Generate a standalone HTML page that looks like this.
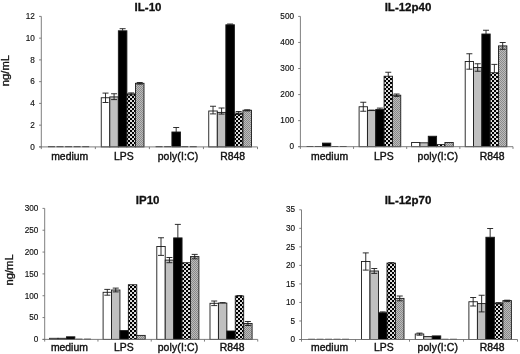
<!DOCTYPE html>
<html lang="en">
<head>
<meta charset="utf-8">
<title>Cytokine production</title>
<style>
html,body{margin:0;padding:0;background:#fff;}
body{width:520px;height:354px;overflow:hidden;}
svg{display:block;filter:blur(0.35px);}
text{font-family:"Liberation Sans",Arial,Helvetica,sans-serif;fill:#111;stroke:#111;stroke-width:0.3px;}
.tk{font-size:8.2px;stroke-width:0.15px;}
.ct{font-size:10.4px;stroke-width:0.4px;}
.tt{font-size:11.5px;font-weight:bold;}
.yl{font-size:10.2px;}
</style>
</head>
<body>
<svg width="520" height="354" viewBox="0 0 520 354">
<defs>
<pattern id="chk" width="4" height="4" patternUnits="userSpaceOnUse"><rect width="4" height="4" fill="#000"/><rect x="0.1" y="2.1" width="1.85" height="1.85" fill="#fff"/><rect x="2.1" y="0.1" width="1.85" height="1.85" fill="#fff"/></pattern>
<pattern id="dot" width="2" height="2" patternUnits="userSpaceOnUse"><rect width="2" height="2" fill="#bcbcbc"/><rect x="0" y="0" width="1" height="1" fill="#8a8a8a"/><rect x="1" y="1" width="1" height="1" fill="#8a8a8a"/></pattern>
</defs>
<rect width="520" height="354" fill="#fff"/>
<g>
<path d="M48 146.7H54.95" fill="none" stroke="#1a1a1a" stroke-width="1"/>
<path d="M56.55 146.7H63.5" fill="none" stroke="#1a1a1a" stroke-width="1"/>
<path d="M65.1 146.7H72.05" fill="none" stroke="#1a1a1a" stroke-width="1"/>
<path d="M73.65 146.7H80.6" fill="none" stroke="#1a1a1a" stroke-width="1"/>
<path d="M82.2 146.7H89.15" fill="none" stroke="#1a1a1a" stroke-width="1"/>
<rect x="101.25" y="97.75" width="8.55" height="49.15" fill="#ffffff" stroke="#1a1a1a" stroke-width="0.9"/>
<path d="M105.53 93.1V102.5M102.53 93.1H108.53M102.53 102.5H108.53" fill="none" stroke="#1a1a1a" stroke-width="0.9"/>
<rect x="109.8" y="96.9" width="8.55" height="50" fill="#c0c0c0" stroke="#1a1a1a" stroke-width="0.9"/>
<path d="M114.08 93.75V99.6M111.08 93.75H117.08M111.08 99.6H117.08" fill="none" stroke="#1a1a1a" stroke-width="0.9"/>
<rect x="118.35" y="30.8" width="8.55" height="116.1" fill="#000000" stroke="#1a1a1a" stroke-width="0.9"/>
<path d="M122.62 28.7V30.8M119.62 28.7H125.62" fill="none" stroke="#1a1a1a" stroke-width="0.9"/>
<rect x="126.9" y="93.9" width="8.55" height="53" fill="url(#chk)" stroke="#1a1a1a" stroke-width="0.9"/>
<path d="M131.18 92.9V94.9M128.18 92.9H134.18M128.18 94.9H134.18" fill="none" stroke="#1a1a1a" stroke-width="0.9"/>
<rect x="135.45" y="83.3" width="8.55" height="63.6" fill="url(#dot)" stroke="#1a1a1a" stroke-width="0.9"/>
<path d="M139.72 82.5V84.1M136.72 82.5H142.72M136.72 84.1H142.72" fill="none" stroke="#1a1a1a" stroke-width="0.9"/>
<path d="M155.6 146.7H162.55" fill="none" stroke="#1a1a1a" stroke-width="1"/>
<path d="M164.15 146.7H171.1" fill="none" stroke="#1a1a1a" stroke-width="1"/>
<rect x="171.9" y="132" width="8.55" height="14.9" fill="#000000" stroke="#1a1a1a" stroke-width="0.9"/>
<path d="M176.18 127.5V132M173.18 127.5H179.18" fill="none" stroke="#1a1a1a" stroke-width="0.9"/>
<path d="M181.25 146.7H188.2" fill="none" stroke="#1a1a1a" stroke-width="1"/>
<path d="M189.8 146.7H196.75" fill="none" stroke="#1a1a1a" stroke-width="1"/>
<rect x="208.75" y="111" width="8.55" height="35.9" fill="#ffffff" stroke="#1a1a1a" stroke-width="0.9"/>
<path d="M213.03 106.25V113.9M210.03 106.25H216.03M210.03 113.9H216.03" fill="none" stroke="#1a1a1a" stroke-width="0.9"/>
<rect x="217.3" y="112.4" width="8.55" height="34.5" fill="#c0c0c0" stroke="#1a1a1a" stroke-width="0.9"/>
<path d="M221.58 108V114.1M218.58 108H224.58M218.58 114.1H224.58" fill="none" stroke="#1a1a1a" stroke-width="0.9"/>
<rect x="225.85" y="24.8" width="8.55" height="122.1" fill="#000000" stroke="#1a1a1a" stroke-width="0.9"/>
<path d="M230.12 24V24.8M227.12 24H233.12" fill="none" stroke="#1a1a1a" stroke-width="0.9"/>
<rect x="234.4" y="113.1" width="8.55" height="33.8" fill="url(#chk)" stroke="#1a1a1a" stroke-width="0.9"/>
<path d="M238.68 111.5V114.5M235.68 111.5H241.68M235.68 114.5H241.68" fill="none" stroke="#1a1a1a" stroke-width="0.9"/>
<rect x="242.95" y="110.25" width="8.55" height="36.65" fill="url(#dot)" stroke="#1a1a1a" stroke-width="0.9"/>
<path d="M247.22 109.8V110.9M244.22 109.8H250.22M244.22 110.9H250.22" fill="none" stroke="#1a1a1a" stroke-width="0.9"/>
<path d="M41.3 16.4V149.1M39.1 146.9H257.5M39.1 146.9H41.3M39.1 125.15H41.3M39.1 103.4H41.3M39.1 81.65H41.3M39.1 59.9H41.3M39.1 38.15H41.3M39.1 16.4H41.3M95.35 146.9V149.1M149.4 146.9V149.1M203.45 146.9V149.1M257.5 146.9V149.1" fill="none" stroke="#707070" stroke-width="0.9"/>
<text x="34.9" y="149.7" text-anchor="end" class="tk">0</text>
<text x="34.9" y="127.95" text-anchor="end" class="tk">2</text>
<text x="34.9" y="106.2" text-anchor="end" class="tk">4</text>
<text x="34.9" y="84.45" text-anchor="end" class="tk">6</text>
<text x="34.9" y="62.7" text-anchor="end" class="tk">8</text>
<text x="34.9" y="40.95" text-anchor="end" class="tk">10</text>
<text x="34.9" y="19.2" text-anchor="end" class="tk">12</text>
<text x="69.7" y="160.3" text-anchor="middle" class="ct">medium</text>
<text x="123.8" y="160.3" text-anchor="middle" class="ct">LPS</text>
<text x="178" y="160.3" text-anchor="middle" class="ct" letter-spacing="0.15">poly(I:C)</text>
<text x="232.7" y="160.3" text-anchor="middle" class="ct">R848</text>
<text x="148" y="11" text-anchor="middle" class="tt">IL-10</text>
<text transform="translate(8.9 70.6) rotate(-90) scale(1.1 1)" text-anchor="middle" class="yl">ng/mL</text>
</g>
<g>
<path d="M306.6 146.5H313.33" fill="none" stroke="#1a1a1a" stroke-width="1"/>
<path d="M314.93 146.5H321.66" fill="none" stroke="#1a1a1a" stroke-width="1"/>
<rect x="322.46" y="143.1" width="8.33" height="3.6" fill="#000000" stroke="#1a1a1a" stroke-width="0.9"/>
<path d="M331.59 146.5H338.32" fill="none" stroke="#1a1a1a" stroke-width="1"/>
<path d="M339.92 146.5H346.65" fill="none" stroke="#1a1a1a" stroke-width="1"/>
<rect x="359.1" y="106.75" width="8.33" height="39.95" fill="#ffffff" stroke="#1a1a1a" stroke-width="0.9"/>
<path d="M363.27 102.25V111.25M360.27 102.25H366.27M360.27 111.25H366.27" fill="none" stroke="#1a1a1a" stroke-width="0.9"/>
<rect x="367.43" y="110.6" width="8.33" height="36.1" fill="#c0c0c0" stroke="#1a1a1a" stroke-width="0.9"/>
<path d="M371.6 110.1V110.6M368.6 110.1H374.6" fill="none" stroke="#1a1a1a" stroke-width="0.9"/>
<rect x="375.76" y="109.4" width="8.33" height="37.3" fill="#000000" stroke="#1a1a1a" stroke-width="0.9"/>
<path d="M379.93 108.1V109.4M376.93 108.1H382.93" fill="none" stroke="#1a1a1a" stroke-width="0.9"/>
<rect x="384.09" y="76.25" width="8.33" height="70.45" fill="url(#chk)" stroke="#1a1a1a" stroke-width="0.9"/>
<path d="M388.26 72.25V76.25M385.26 72.25H391.26" fill="none" stroke="#1a1a1a" stroke-width="0.9"/>
<rect x="392.42" y="95.2" width="8.33" height="51.5" fill="url(#dot)" stroke="#1a1a1a" stroke-width="0.9"/>
<path d="M396.59 94V96.4M393.59 94H399.59M393.59 96.4H399.59" fill="none" stroke="#1a1a1a" stroke-width="0.9"/>
<rect x="411.6" y="142.5" width="8.33" height="4.2" fill="#ffffff" stroke="#1a1a1a" stroke-width="0.9"/>
<rect x="419.93" y="142.8" width="8.33" height="3.9" fill="#c0c0c0" stroke="#1a1a1a" stroke-width="0.9"/>
<rect x="428.26" y="136.25" width="8.33" height="10.45" fill="#000000" stroke="#1a1a1a" stroke-width="0.9"/>
<rect x="436.59" y="144.6" width="8.33" height="2.1" fill="url(#chk)" stroke="#1a1a1a" stroke-width="0.9"/>
<rect x="444.92" y="142.5" width="8.33" height="4.2" fill="url(#dot)" stroke="#1a1a1a" stroke-width="0.9"/>
<rect x="465.2" y="61.5" width="8.33" height="85.2" fill="#ffffff" stroke="#1a1a1a" stroke-width="0.9"/>
<path d="M469.37 53.75V69.2M466.37 53.75H472.37M466.37 69.2H472.37" fill="none" stroke="#1a1a1a" stroke-width="0.9"/>
<rect x="473.53" y="67.5" width="8.33" height="79.2" fill="#c0c0c0" stroke="#1a1a1a" stroke-width="0.9"/>
<path d="M477.69 63.75V71.25M474.69 63.75H480.69M474.69 71.25H480.69" fill="none" stroke="#1a1a1a" stroke-width="0.9"/>
<rect x="481.86" y="34" width="8.33" height="112.7" fill="#000000" stroke="#1a1a1a" stroke-width="0.9"/>
<path d="M486.03 30.25V34M483.03 30.25H489.03" fill="none" stroke="#1a1a1a" stroke-width="0.9"/>
<rect x="490.19" y="72.75" width="8.33" height="73.95" fill="url(#chk)" stroke="#1a1a1a" stroke-width="0.9"/>
<path d="M494.36 64.4V72.75M491.36 64.4H497.36" fill="none" stroke="#1a1a1a" stroke-width="0.9"/>
<rect x="498.52" y="45.9" width="8.33" height="100.8" fill="url(#dot)" stroke="#1a1a1a" stroke-width="0.9"/>
<path d="M502.69 42.5V49.3M499.69 42.5H505.69M499.69 49.3H505.69" fill="none" stroke="#1a1a1a" stroke-width="0.9"/>
<path d="M300.4 16.4V148.9M298.2 146.7H513M298.2 146.7H300.4M298.2 120.64H300.4M298.2 94.58H300.4M298.2 68.52H300.4M298.2 42.46H300.4M298.2 16.4H300.4M353.55 146.7V148.9M406.7 146.7V148.9M459.85 146.7V148.9M513 146.7V148.9" fill="none" stroke="#707070" stroke-width="0.9"/>
<text x="294" y="148.8" text-anchor="end" class="tk">0</text>
<text x="294" y="123.44" text-anchor="end" class="tk">100</text>
<text x="294" y="97.38" text-anchor="end" class="tk">200</text>
<text x="294" y="71.32" text-anchor="end" class="tk">300</text>
<text x="294" y="45.26" text-anchor="end" class="tk">400</text>
<text x="294" y="19.2" text-anchor="end" class="tk">500</text>
<text x="329.6" y="160.3" text-anchor="middle" class="ct">medium</text>
<text x="383.8" y="160.3" text-anchor="middle" class="ct">LPS</text>
<text x="437.8" y="160.3" text-anchor="middle" class="ct" letter-spacing="0.15">poly(I:C)</text>
<text x="492.2" y="160.3" text-anchor="middle" class="ct">R848</text>
<text x="408" y="10.8" text-anchor="middle" class="tt">IL-12p40</text>
</g>
<g>
<rect x="49.6" y="338.3" width="8.42" height="1.1" fill="#ffffff" stroke="#1a1a1a" stroke-width="0.9"/>
<rect x="58.02" y="338.3" width="8.42" height="1.1" fill="#c0c0c0" stroke="#1a1a1a" stroke-width="0.9"/>
<rect x="66.44" y="336.8" width="8.42" height="2.6" fill="#000000" stroke="#1a1a1a" stroke-width="0.9"/>
<path d="M75.66 339.2H82.48" fill="none" stroke="#1a1a1a" stroke-width="1"/>
<path d="M84.08 339.2H90.9" fill="none" stroke="#1a1a1a" stroke-width="1"/>
<rect x="103.1" y="292.3" width="8.42" height="47.1" fill="#ffffff" stroke="#1a1a1a" stroke-width="0.9"/>
<path d="M107.31 289.4V295.2M104.31 289.4H110.31M104.31 295.2H110.31" fill="none" stroke="#1a1a1a" stroke-width="0.9"/>
<rect x="111.52" y="290" width="8.42" height="49.4" fill="#c0c0c0" stroke="#1a1a1a" stroke-width="0.9"/>
<path d="M115.73 288.1V291.9M112.73 288.1H118.73M112.73 291.9H118.73" fill="none" stroke="#1a1a1a" stroke-width="0.9"/>
<rect x="119.94" y="330.6" width="8.42" height="8.8" fill="#000000" stroke="#1a1a1a" stroke-width="0.9"/>
<rect x="128.36" y="284.75" width="8.42" height="54.65" fill="url(#chk)" stroke="#1a1a1a" stroke-width="0.9"/>
<rect x="136.78" y="335.4" width="8.42" height="4" fill="url(#dot)" stroke="#1a1a1a" stroke-width="0.9"/>
<rect x="156.8" y="246.5" width="8.42" height="92.9" fill="#ffffff" stroke="#1a1a1a" stroke-width="0.9"/>
<path d="M161.01 237.75V255.4M158.01 237.75H164.01M158.01 255.4H164.01" fill="none" stroke="#1a1a1a" stroke-width="0.9"/>
<rect x="165.22" y="260.1" width="8.42" height="79.3" fill="#c0c0c0" stroke="#1a1a1a" stroke-width="0.9"/>
<path d="M169.43 257.5V262.7M166.43 257.5H172.43M166.43 262.7H172.43" fill="none" stroke="#1a1a1a" stroke-width="0.9"/>
<rect x="173.64" y="237.9" width="8.42" height="101.5" fill="#000000" stroke="#1a1a1a" stroke-width="0.9"/>
<path d="M177.85 224.4V237.9M174.85 224.4H180.85" fill="none" stroke="#1a1a1a" stroke-width="0.9"/>
<rect x="182.06" y="262.75" width="8.42" height="76.65" fill="url(#chk)" stroke="#1a1a1a" stroke-width="0.9"/>
<rect x="190.48" y="256.6" width="8.42" height="82.8" fill="url(#dot)" stroke="#1a1a1a" stroke-width="0.9"/>
<path d="M194.69 254.4V258.8M191.69 254.4H197.69M191.69 258.8H197.69" fill="none" stroke="#1a1a1a" stroke-width="0.9"/>
<rect x="210" y="303.3" width="8.42" height="36.1" fill="#ffffff" stroke="#1a1a1a" stroke-width="0.9"/>
<path d="M214.21 301V305.6M211.21 301H217.21M211.21 305.6H217.21" fill="none" stroke="#1a1a1a" stroke-width="0.9"/>
<rect x="218.42" y="303.1" width="8.42" height="36.3" fill="#c0c0c0" stroke="#1a1a1a" stroke-width="0.9"/>
<path d="M222.63 302.6V303.1M219.63 302.6H225.63" fill="none" stroke="#1a1a1a" stroke-width="0.9"/>
<rect x="226.84" y="331" width="8.42" height="8.4" fill="#000000" stroke="#1a1a1a" stroke-width="0.9"/>
<rect x="235.26" y="296" width="8.42" height="43.4" fill="url(#chk)" stroke="#1a1a1a" stroke-width="0.9"/>
<path d="M239.47 295.5V296M236.47 295.5H242.47" fill="none" stroke="#1a1a1a" stroke-width="0.9"/>
<rect x="243.68" y="323.5" width="8.42" height="15.9" fill="url(#dot)" stroke="#1a1a1a" stroke-width="0.9"/>
<path d="M247.89 321.5V325.5M244.89 321.5H250.89M244.89 325.5H250.89" fill="none" stroke="#1a1a1a" stroke-width="0.9"/>
<path d="M44.7 208.4V341.6M42.5 339.4H257.74M42.5 339.4H44.7M42.5 317.57H44.7M42.5 295.73H44.7M42.5 273.9H44.7M42.5 252.07H44.7M42.5 230.23H44.7M42.5 208.4H44.7M97.96 339.4V341.6M151.22 339.4V341.6M204.48 339.4V341.6M257.74 339.4V341.6" fill="none" stroke="#707070" stroke-width="0.9"/>
<text x="38.3" y="342.2" text-anchor="end" class="tk">0</text>
<text x="38.3" y="320.37" text-anchor="end" class="tk">50</text>
<text x="38.3" y="298.53" text-anchor="end" class="tk">100</text>
<text x="38.3" y="276.7" text-anchor="end" class="tk">150</text>
<text x="38.3" y="254.87" text-anchor="end" class="tk">200</text>
<text x="38.3" y="233.03" text-anchor="end" class="tk">250</text>
<text x="38.3" y="211.2" text-anchor="end" class="tk">300</text>
<text x="69.4" y="350.5" text-anchor="middle" class="ct">medium</text>
<text x="123.8" y="350.5" text-anchor="middle" class="ct">LPS</text>
<text x="178" y="350.5" text-anchor="middle" class="ct" letter-spacing="0.15">poly(I:C)</text>
<text x="232.2" y="350.5" text-anchor="middle" class="ct">R848</text>
<text x="147.7" y="203.8" text-anchor="middle" class="tt">IP10</text>
<text transform="translate(13.3 269.9) rotate(-90) scale(1.1 1)" text-anchor="middle" class="yl">ng/mL</text>
</g>
<g>
<path d="M308.1 339.3H315" fill="none" stroke="#1a1a1a" stroke-width="1"/>
<path d="M316.6 339.3H323.5" fill="none" stroke="#1a1a1a" stroke-width="1"/>
<path d="M325.1 339.3H332" fill="none" stroke="#1a1a1a" stroke-width="1"/>
<path d="M333.6 339.3H340.5" fill="none" stroke="#1a1a1a" stroke-width="1"/>
<path d="M342.1 339.3H349" fill="none" stroke="#1a1a1a" stroke-width="1"/>
<rect x="361.5" y="261.5" width="8.5" height="78" fill="#ffffff" stroke="#1a1a1a" stroke-width="0.9"/>
<path d="M365.75 252.9V270.1M362.75 252.9H368.75M362.75 270.1H368.75" fill="none" stroke="#1a1a1a" stroke-width="0.9"/>
<rect x="370" y="271" width="8.5" height="68.5" fill="#c0c0c0" stroke="#1a1a1a" stroke-width="0.9"/>
<path d="M374.25 268.5V273.4M371.25 268.5H377.25M371.25 273.4H377.25" fill="none" stroke="#1a1a1a" stroke-width="0.9"/>
<rect x="378.5" y="312.75" width="8.5" height="26.75" fill="#000000" stroke="#1a1a1a" stroke-width="0.9"/>
<path d="M382.75 311.9V312.75M379.75 311.9H385.75" fill="none" stroke="#1a1a1a" stroke-width="0.9"/>
<rect x="387" y="263.1" width="8.5" height="76.4" fill="url(#chk)" stroke="#1a1a1a" stroke-width="0.9"/>
<path d="M391.25 262.6V263.1M388.25 262.6H394.25" fill="none" stroke="#1a1a1a" stroke-width="0.9"/>
<rect x="395.5" y="298.4" width="8.5" height="41.1" fill="url(#dot)" stroke="#1a1a1a" stroke-width="0.9"/>
<path d="M399.75 296V300.8M396.75 296H402.75M396.75 300.8H402.75" fill="none" stroke="#1a1a1a" stroke-width="0.9"/>
<rect x="415.25" y="334" width="8.5" height="5.5" fill="#ffffff" stroke="#1a1a1a" stroke-width="0.9"/>
<path d="M419.5 333.1V335.2M416.5 333.1H422.5M416.5 335.2H422.5" fill="none" stroke="#1a1a1a" stroke-width="0.9"/>
<rect x="423.75" y="336.6" width="8.5" height="2.9" fill="#c0c0c0" stroke="#1a1a1a" stroke-width="0.9"/>
<rect x="432.25" y="335.9" width="8.5" height="3.6" fill="#000000" stroke="#1a1a1a" stroke-width="0.9"/>
<path d="M441.55 339.3H448.45" fill="none" stroke="#1a1a1a" stroke-width="1"/>
<path d="M450.05 339.3H456.95" fill="none" stroke="#1a1a1a" stroke-width="1"/>
<rect x="468.9" y="301.75" width="8.5" height="37.75" fill="#ffffff" stroke="#1a1a1a" stroke-width="0.9"/>
<path d="M473.15 297.5V306M470.15 297.5H476.15M470.15 306H476.15" fill="none" stroke="#1a1a1a" stroke-width="0.9"/>
<rect x="477.4" y="303.6" width="8.5" height="35.9" fill="#c0c0c0" stroke="#1a1a1a" stroke-width="0.9"/>
<path d="M481.65 295.25V311.9M478.65 295.25H484.65M478.65 311.9H484.65" fill="none" stroke="#1a1a1a" stroke-width="0.9"/>
<rect x="485.9" y="237.25" width="8.5" height="102.25" fill="#000000" stroke="#1a1a1a" stroke-width="0.9"/>
<path d="M490.15 228.5V237.25M487.15 228.5H493.15" fill="none" stroke="#1a1a1a" stroke-width="0.9"/>
<rect x="494.4" y="303.1" width="8.5" height="36.4" fill="url(#chk)" stroke="#1a1a1a" stroke-width="0.9"/>
<path d="M498.65 302.7V304M495.65 302.7H501.65M495.65 304H501.65" fill="none" stroke="#1a1a1a" stroke-width="0.9"/>
<rect x="502.9" y="300.6" width="8.5" height="38.9" fill="url(#dot)" stroke="#1a1a1a" stroke-width="0.9"/>
<path d="M507.15 300.2V301.6M504.15 300.2H510.15M504.15 301.6H510.15" fill="none" stroke="#1a1a1a" stroke-width="0.9"/>
<path d="M301.5 209.8V341.7M299.3 339.5H517.5M299.3 339.5H301.5M299.3 320.97H301.5M299.3 302.44H301.5M299.3 283.91H301.5M299.3 265.39H301.5M299.3 246.86H301.5M299.3 228.33H301.5M299.3 209.8H301.5M355.5 339.5V341.7M409.5 339.5V341.7M463.5 339.5V341.7M517.5 339.5V341.7" fill="none" stroke="#707070" stroke-width="0.9"/>
<text x="295.1" y="342.3" text-anchor="end" class="tk">0</text>
<text x="295.1" y="323.77" text-anchor="end" class="tk">5</text>
<text x="295.1" y="305.24" text-anchor="end" class="tk">10</text>
<text x="295.1" y="286.71" text-anchor="end" class="tk">15</text>
<text x="295.1" y="268.19" text-anchor="end" class="tk">20</text>
<text x="295.1" y="249.66" text-anchor="end" class="tk">25</text>
<text x="295.1" y="231.13" text-anchor="end" class="tk">30</text>
<text x="295.1" y="211.7" text-anchor="end" class="tk">35</text>
<text x="329.6" y="350.5" text-anchor="middle" class="ct">medium</text>
<text x="383.8" y="350.5" text-anchor="middle" class="ct">LPS</text>
<text x="437.8" y="350.5" text-anchor="middle" class="ct" letter-spacing="0.15">poly(I:C)</text>
<text x="492.2" y="350.5" text-anchor="middle" class="ct">R848</text>
<text x="408" y="203.6" text-anchor="middle" class="tt">IL-12p70</text>
</g>
</svg>
</body>
</html>
